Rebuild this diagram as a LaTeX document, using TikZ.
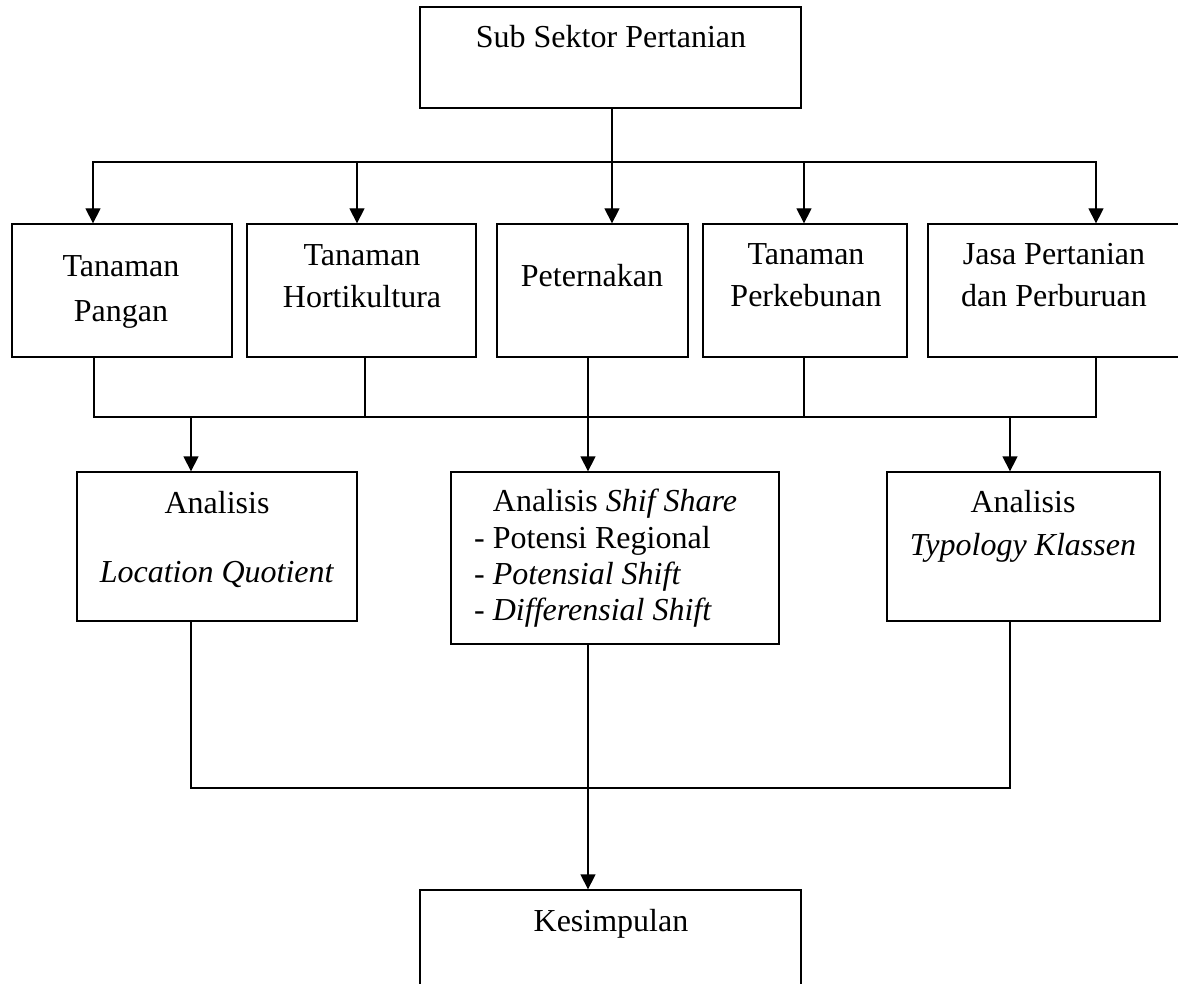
\documentclass[tikz,border=0pt]{standalone}
\usepackage{fontspec}
\setmainfont{Liberation Serif}
\usetikzlibrary{arrows.meta,positioning,calc}

\newcommand{\stackc}[1]{\parbox[t]{320pt}{\centering #1}}
\newcommand{\stackl}[1]{\parbox[t]{320pt}{\raggedright #1}}

\tikzset{
  box/.style={draw, line width=1.3pt, rectangle, inner sep=0pt},
  txt/.style={anchor=base, inner sep=0pt, font=\fontsize{32}{42}\selectfont},
  conn/.style={line width=1.3pt},
  bus/.style={line width=1.9pt, line cap=rect},
  arr/.style={line width=1.3pt, -{Triangle[width=15pt,length=15pt]}}
}

\begin{document}
\begin{tikzpicture}[x=1pt, y=-1pt]
    \useasboundingbox (0,0) rectangle (1178,984);

    % boxes
    \node[box, minimum width=381pt, minimum height=101pt] (top) at (610.5,57.5) {};
    \node[box, minimum width=220pt, minimum height=133pt] (tp) at (122,290.5) {};
    \node[box, minimum width=229pt, minimum height=133pt] (th) at (361.5,290.5) {};
    \node[box, minimum width=191pt, minimum height=133pt] (pt) at (592.5,290.5) {};
    \node[box, minimum width=204pt, minimum height=133pt] (pk) at (805,290.5) {};
    \node[box, minimum width=258pt, minimum height=133pt] (js) at (1057,290.5) {};
    \node[box, minimum width=280pt, minimum height=149pt] (lq) at (217,546.5) {};
    \node[box, minimum width=328pt, minimum height=172pt] (ss) at (615,558) {};
    \node[box, minimum width=273pt, minimum height=149pt] (tk) at (1023.5,546.5) {};
    \node[box, minimum width=381pt, minimum height=110pt] (ks) at (610.5,945) {};

    % texts
    \node[txt] (top-t) at (611,48) {Sub Sektor Pertanian};
    \node[txt, font=\fontsize{32}{45}\selectfont] (tp-t) at (121,277) {\stackc{Tanaman\\Pangan}};
    \node[txt] (th-t) at (362,266) {\stackc{Tanaman\\Hortikultura}};
    \node[txt] (pt-t) at (592,287) {Peternakan};
    \node[txt] (pk-t) at (806,265) {\stackc{Tanaman\\Perkebunan}};
    \node[txt] (js-t) at (1054,265) {\stackc{Jasa Pertanian\\dan Perburuan}};
    \node[txt, font=\fontsize{32}{69}\selectfont] (lq-t) at (217,513) {\stackc{Analisis\\\textit{Location Quotient}}};
    \node[txt] (ss-t) at (615,511) {Analisis \textit{Shif Share}};
    \node[txt, anchor=base west, font=\fontsize{32}{36}\selectfont] (ss-l) at (474,548)
        {\stackl{- Potensi Regional\\- \textit{Potensial Shift}\\- \textit{Differensial Shift}}};
    \node[txt, font=\fontsize{32}{43}\selectfont] (tk-t) at (1023,512) {\stackc{Analisis\\\textit{Typology Klassen}}};
    \node[txt] (ks-t) at (611,931) {Kesimpulan};

    % top to sub sectors
    \coordinate (split) at (612,162);
    \draw[conn] (split |- top.south) -- (split);
    \foreach \n/\x in {tp/93, th/357, pt/612, pk/804, js/1096} {
        \coordinate (in-\n) at (\x,162);
        \draw[arr] (in-\n) -- (in-\n |- \n.north);
    }
    \draw[bus] (in-tp) -- (in-js);

    % sub sectors to analyses
    \foreach \n/\x in {tp/94, th/365, pt/588, pk/804, js/1096} {
        \coordinate (out-\n) at (\x,417);
        \draw[conn] (out-\n |- \n.south) -- (out-\n);
    }
    \draw[bus] (out-tp) -- (out-js);
    \foreach \n/\x in {lq/191, ss/588, tk/1010} {
        \coordinate (mid-\n) at (\x,417);
        \draw[arr] (mid-\n) -- (mid-\n |- \n.north);
    }

    % analyses to conclusion
    \coordinate (low-lq) at (191,788);
    \coordinate (low-tk) at (1010,788);
    \draw[conn] (low-lq |- lq.south) -- (low-lq);
    \draw[conn] (low-tk |- tk.south) -- (low-tk);
    \draw[bus] (low-lq) -- (low-tk);
    \draw[arr] (ss.south -| 588,0) -- (ks.north -| 588,0);
\end{tikzpicture}
\end{document}
